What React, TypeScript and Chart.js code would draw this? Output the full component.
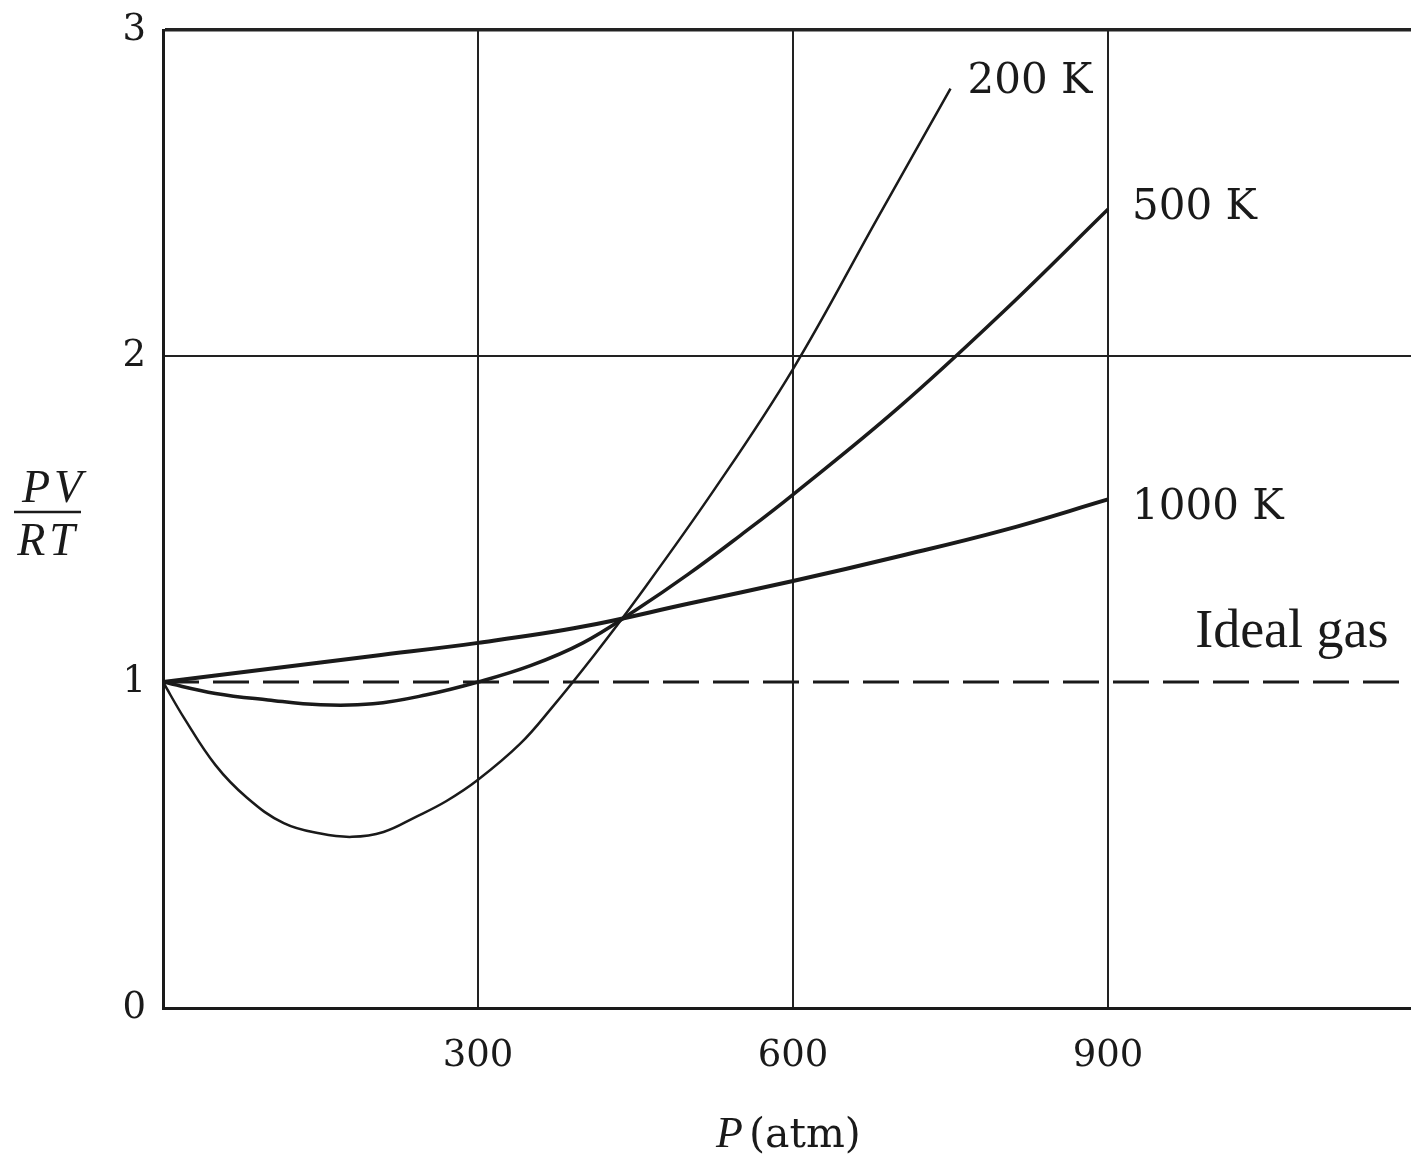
import React, { useEffect, useRef } from "react";
import { Chart, registerables } from "chart.js";

Chart.register(...registerables);

// ---- data ----
const P_200K = [0, 20, 50, 80, 115, 150, 180, 210, 240, 270, 300, 340, 370, 410, 450, 525, 600, 680, 750];
const Z_200K = [1.0, 0.89, 0.745, 0.645, 0.567, 0.535, 0.525, 0.54, 0.585, 0.635, 0.7, 0.81, 0.92, 1.08, 1.25, 1.59, 1.96, 2.42, 2.82];

const P_500K = [0, 50, 100, 150, 200, 250, 300, 350, 400, 450, 500, 550, 600, 700, 800, 900];
const Z_500K = [1.0, 0.965, 0.945, 0.93, 0.933, 0.96, 1.0, 1.05, 1.12, 1.22, 1.33, 1.45, 1.575, 1.84, 2.135, 2.45];

const P_1000K = [0, 100, 200, 300, 400, 500, 600, 700, 800, 900];
const Z_1000K = [1.0, 1.04, 1.08, 1.12, 1.17, 1.24, 1.31, 1.385, 1.465, 1.56];

const P_IDEAL = [0, 1200];
const Z_IDEAL = [1, 1];

const CURVE_NAMES = ["200 K", "500 K", "1000 K"];
const IDEAL_NAME = "Ideal gas";
const X_TICK_LABELS = [300, 600, 900];
const Y_TICK_LABELS = [0, 1, 2, 3];
const X_TITLE_ITALIC = "P";
const X_TITLE_REST = "(atm)";
const Y_TITLE_TOP = "PV";
const Y_TITLE_BOTTOM = "RT";

const INK = "#1a1a1a";

export default function App() {
  const ref = useRef<HTMLCanvasElement>(null);

  useEffect(() => {
    const canvas = ref.current!;
    const toPts = (xs: number[], ys: number[]) => xs.map((x, i) => ({ x, y: ys[i] }));

    const textPlugin = {
      id: "textPlugin",
      afterDatasetsDraw(chart: any) {
        const { ctx, scales } = chart;
        const xs = scales.x;
        const ys = scales.y;
        ctx.save();
        ctx.fillStyle = INK;
        ctx.textBaseline = "alphabetic";
        ctx.textAlign = "left";
        ctx.font = '42px "DejaVu Serif"';
        const ends = [
          [P_200K[P_200K.length - 1], Z_200K[Z_200K.length - 1]],
          [P_500K[P_500K.length - 1], Z_500K[Z_500K.length - 1]],
          [P_1000K[P_1000K.length - 1], Z_1000K[Z_1000K.length - 1]],
        ];
        const offs = [
          [17, 4],
          [24, 10],
          [24, 20],
        ];
        CURVE_NAMES.forEach((name, i) => {
          const px = xs.getPixelForValue(ends[i][0]) + offs[i][0];
          const py = ys.getPixelForValue(ends[i][1]) + offs[i][1];
          ctx.fillText(name, px, py);
        });
        ctx.font = '54px "Liberation Serif"';
        ctx.fillText(IDEAL_NAME, xs.getPixelForValue(983), ys.getPixelForValue(1) - 35);
        ctx.restore();
      },
      afterDraw(chart: any) {
        const { ctx, chartArea, scales } = chart;
        const xs = scales.x;
        ctx.save();
        ctx.fillStyle = INK;
        ctx.strokeStyle = INK;
        ctx.textBaseline = "alphabetic";
        const base = xs.getPixelForValue(600);
        const by = chartArea.bottom + 139;
        ctx.textAlign = "left";
        ctx.font = 'italic 44px "Liberation Serif"';
        ctx.fillText(X_TITLE_ITALIC, base - 77, by);
        ctx.font = '41px "DejaVu Serif"';
        ctx.fillText(X_TITLE_REST, base - 44, by);
        const fy = (chartArea.top + chartArea.bottom) / 2;
        const cx = 48;
        ctx.textAlign = "center";
        ctx.font = 'italic 46px "Liberation Serif"';
        try { (ctx as any).letterSpacing = "4px"; } catch (e) {}
        ctx.fillText(Y_TITLE_TOP, cx + 6, fy - 17);
        ctx.fillText(Y_TITLE_BOTTOM, cx, fy + 36);
        try { (ctx as any).letterSpacing = "0px"; } catch (e) {}
        ctx.lineWidth = 2.5;
        ctx.beginPath();
        ctx.moveTo(14, fy - 7);
        ctx.lineTo(81, fy - 7);
        ctx.stroke();
        ctx.restore();
      },
    };

    const chart = new Chart(canvas, {
      type: "line",
      data: {
        datasets: [
          {
            label: "Ideal gas",
            data: toPts(P_IDEAL, Z_IDEAL),
            borderColor: INK,
            borderWidth: 3,
            borderDash: [36, 14],
            pointRadius: 0,
            tension: 0,
          },
          {
            label: CURVE_NAMES[0],
            data: toPts(P_200K, Z_200K),
            borderColor: INK,
            borderWidth: 2.5,
            pointRadius: 0,
            tension: 0.4,
          },
          {
            label: CURVE_NAMES[1],
            data: toPts(P_500K, Z_500K),
            borderColor: INK,
            borderWidth: 3.5,
            pointRadius: 0,
            tension: 0.4,
          },
          {
            label: CURVE_NAMES[2],
            data: toPts(P_1000K, Z_1000K),
            borderColor: INK,
            borderWidth: 4,
            pointRadius: 0,
            tension: 0.4,
          },
        ],
      } as any,
      options: {
        responsive: false,
        animation: false,
        layout: { padding: { top: 30, right: 17, left: 0, bottom: 0 } },
        plugins: { legend: { display: false }, tooltip: { enabled: false } },
        scales: {
          x: {
            type: "linear",
            min: 0,
            max: 1200,
            ticks: {
              stepSize: 300,
              autoSkip: false,
              maxRotation: 0,
              padding: 26,
              color: INK,
              font: { family: "DejaVu Serif", size: 37 },
              callback: (v: any) => (X_TICK_LABELS.includes(Number(v)) ? String(v) : ""),
            },
            grid: {
              drawTicks: false,
              color: (c: any) => (c.tick && c.tick.value === 0 ? "rgba(0,0,0,0)" : "#222"),
              lineWidth: 2,
            },
            border: { display: true, color: INK, width: 3 },
            afterFit: (s: any) => {
              s.height = 153;
              s.paddingLeft = 0;
              s.paddingRight = 0;
            },
          },
          y: {
            type: "linear",
            min: 0,
            max: 3,
            ticks: {
              stepSize: 1,
              padding: 17,
              color: INK,
              font: { family: "DejaVu Serif", size: 37 },
              callback: (v: any) => (Y_TICK_LABELS.includes(Number(v)) ? String(v) : ""),
            },
            grid: {
              drawTicks: false,
              color: (c: any) => (c.tick && (c.tick.value === 1 || c.tick.value === 0) ? "rgba(0,0,0,0)" : "#222"),
              lineWidth: (c: any) => (c.tick && c.tick.value === 3 ? 3.5 : 2),
            },
            border: { display: true, color: INK, width: 3 },
            afterFit: (s: any) => {
              s.width = 163;
              s.paddingTop = 0;
              s.paddingBottom = 0;
            },
          },
        },
      } as any,
      plugins: [textPlugin],
    });

    return () => chart.destroy();
  }, []);

  return (
    <div
      style={{
        position: "fixed",
        left: 0,
        top: 0,
        width: 1411,
        height: 1161,
        overflow: "hidden",
        background: "#fff",
      }}
    >
      <canvas ref={ref} width={1440} height={1161} style={{ display: "block", width: 1440, height: 1161 }} />
    </div>
  );
}
